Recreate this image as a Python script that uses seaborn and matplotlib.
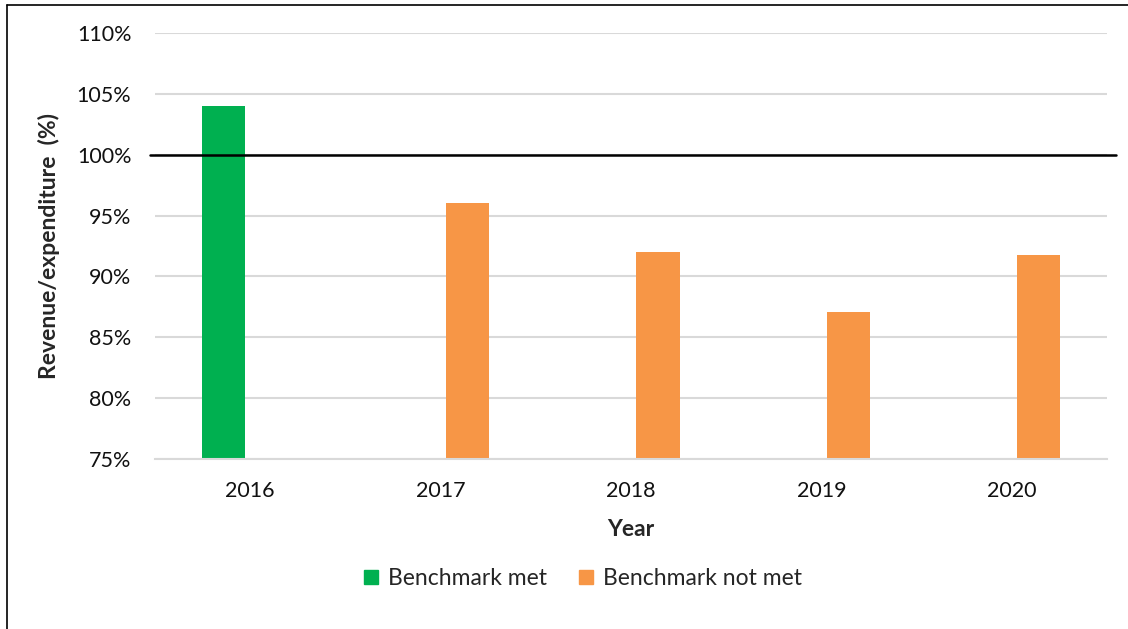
import matplotlib
matplotlib.use("Agg")
import matplotlib.pyplot as plt
from matplotlib.lines import Line2D
from matplotlib.ticker import FuncFormatter
import pandas as pd
import seaborn as sns

# Revenue as a share of expenditure, by financial year
years = ["2016", "2017", "2018", "2019", "2020"]
ratio_pct = [104.0, 96.0, 92.0, 87.1, 91.8]
status = ["Benchmark met", "Benchmark not met", "Benchmark not met",
          "Benchmark not met", "Benchmark not met"]
status_order = ["Benchmark met", "Benchmark not met"]
status_colors = ["#00B050", "#F79646"]
benchmark = 100.0
y_ticks = [75, 80, 85, 90, 95, 100, 105, 110]

df = pd.DataFrame({"Year": years, "Ratio": ratio_pct, "Status": status})

sns.set_theme(style="white")
plt.rcParams["font.family"] = ["Lato", "DejaVu Sans"]

fig = plt.figure(figsize=(11.28, 6.29), dpi=100)
ax = fig.add_axes([0.1374, 0.2703, 0.9814 - 0.1374, 0.9475 - 0.2703])

sns.barplot(data=df, x="Year", y="Ratio", hue="Status", order=years,
            hue_order=status_order, palette=status_colors, width=0.567,
            gap=0.2, dodge=True, saturation=1, ax=ax, legend=False,
            edgecolor="none")

ax.set_ylim(y_ticks[0], y_ticks[-1])
ax.set_yticks(y_ticks)
ax.yaxis.set_major_formatter(FuncFormatter(lambda v, _: f"{v:.0f}%"))
ax.yaxis.grid(True, color="#d9d9d9", linewidth=1.5)
ax.set_axisbelow(True)
for side in ["top", "right", "left"]:
    ax.spines[side].set_visible(False)
ax.spines["bottom"].set_color("#d9d9d9")
ax.spines["bottom"].set_linewidth(1.5)

ax.axhline(benchmark, xmin=-0.005, xmax=1.009, color="black",
           linewidth=1.8, clip_on=False, zorder=5)

ax.tick_params(axis="both", length=0, labelsize=15.5, colors="#111111")
ax.tick_params(axis="y", pad=17)
ax.tick_params(axis="x", pad=16)

ax.set_xlabel("Year", fontsize=16.5, fontweight="bold", labelpad=13)
ax.set_ylabel("Revenue/expenditure  (%)", fontsize=16.5, fontweight="bold",
              labelpad=12)

handles = [Line2D([], [], marker="s", linestyle="none", markersize=10,
                  markerfacecolor=c, markeredgecolor=c) for c in status_colors]
fig.legend(handles, status_order, loc="center", ncol=2, frameon=False,
           bbox_to_anchor=(0.516, 0.081), fontsize=16.5, handlelength=0.8,
           handletextpad=0.35, columnspacing=1.3)

# Outline along the top and left edges of the chart area
fig.add_artist(Line2D([7 / 1128, 7 / 1128], [0, 1 - 5 / 629],
                      transform=fig.transFigure, color="black", linewidth=1.2))
fig.add_artist(Line2D([7 / 1128, 1], [1 - 5 / 629, 1 - 5 / 629],
                      transform=fig.transFigure, color="black", linewidth=1.2))

fig.savefig("out.png", dpi=100, facecolor="white")
